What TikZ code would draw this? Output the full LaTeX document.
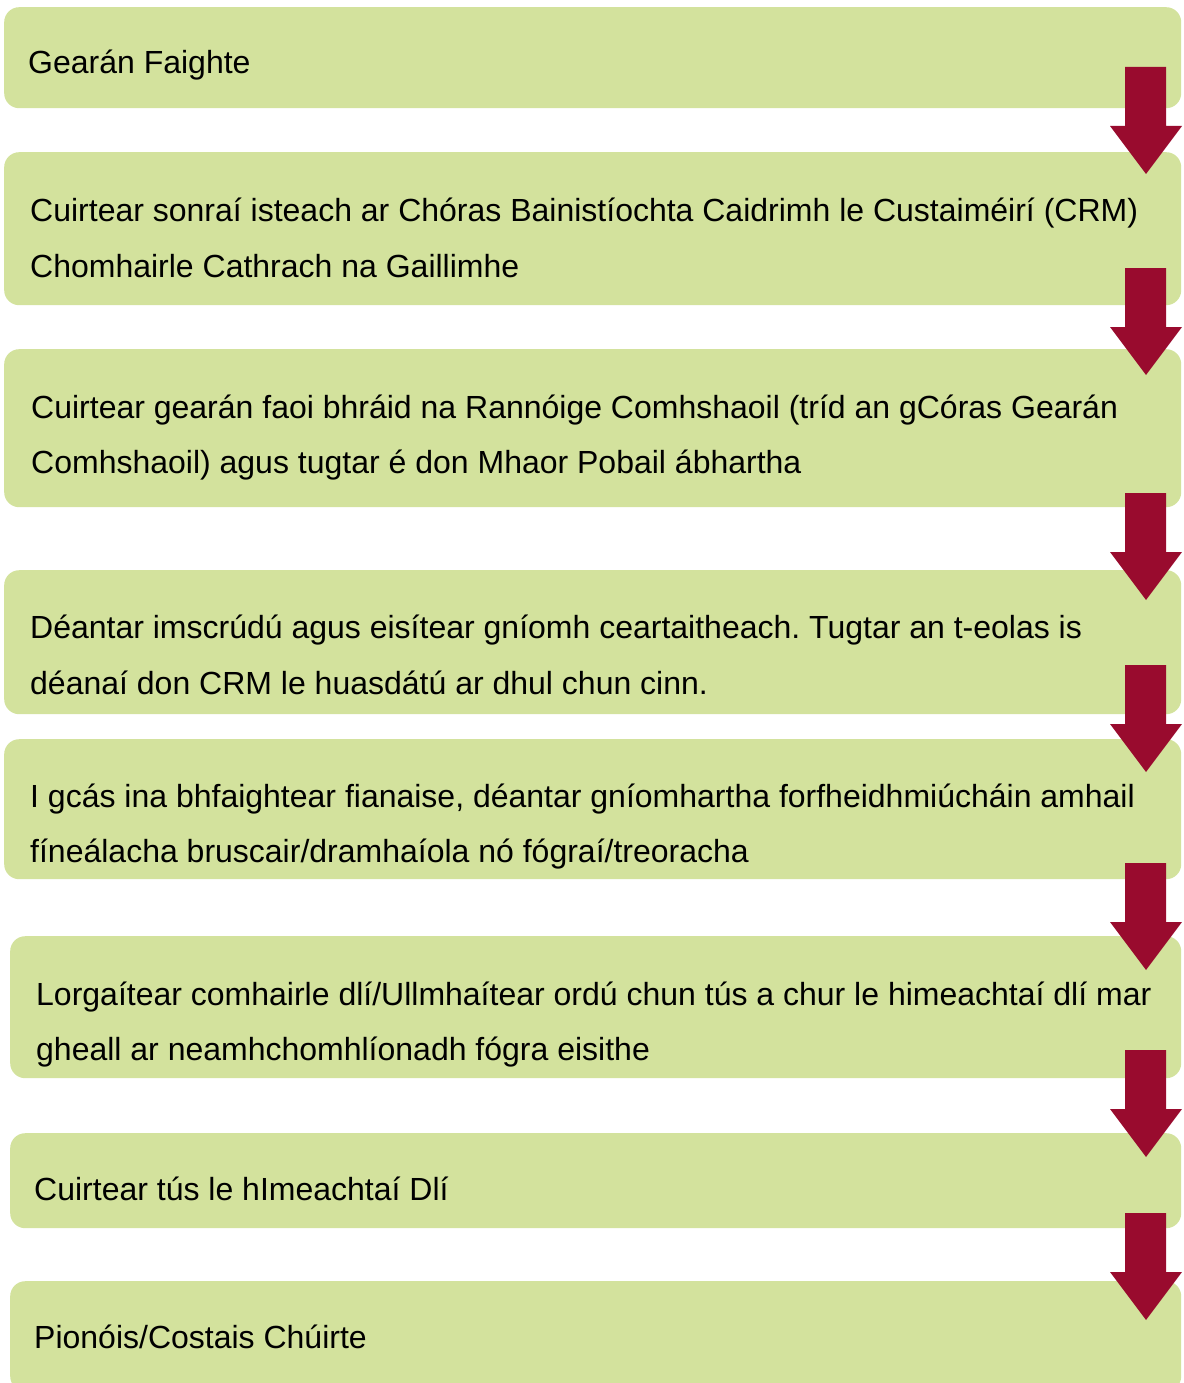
\documentclass[tikz,border=0pt]{standalone}
\usepackage{fontspec}
\setmainfont{Liberation Sans}
\frenchspacing
\definecolor{boxgreen}{HTML}{D3E29D}
\definecolor{arrowred}{HTML}{990B2E}
\tikzset{
  box/.style={fill=boxgreen, rounded corners=15pt, inner sep=0pt, anchor=north west},
  lbl/.style={inner sep=0pt, anchor=base west, font=\fontsize{32}{55}\selectfont},
  redarrow/.style={fill=arrowred}
}
\newcommand\downarr[2]{%
  \coordinate (#2) at (1146,#1);
  \fill[redarrow] (1125,#1) -- (1166,#1) -- (1166,{#1+59}) -- (1182,{#1+59}) -- (1146,{#1+107}) -- (1110,{#1+59}) -- (1125,{#1+59}) -- cycle;
}
\begin{document}
\begin{tikzpicture}[x=1pt,y=-1pt]
\useasboundingbox (0,0) rectangle (1183,1383);
% boxes
\node[box, minimum width=1177pt, minimum height=101pt] (b1) at (4,7) {};
\node[box, minimum width=1177pt, minimum height=153pt] (b2) at (4,152) {};
\node[box, minimum width=1177pt, minimum height=158pt] (b3) at (4,349) {};
\node[box, minimum width=1177pt, minimum height=144pt] (b4) at (4,570) {};
\node[box, minimum width=1177pt, minimum height=140pt] (b5) at (4,739) {};
\node[box, minimum width=1171pt, minimum height=142pt] (b6) at (10,936) {};
\node[box, minimum width=1171pt, minimum height=95pt] (b7) at (10,1133) {};
\node[box, minimum width=1171pt, minimum height=110pt] (b8) at (10,1281) {};
% texts
\node[lbl] (t1) at (28,74) {Gearán Faighte};
\node[lbl] (t2a) at (30,222) {Cuirtear sonraí isteach ar Chóras Bainistíochta Caidrimh le Custaiméirí (CRM)};
\node[lbl] (t2b) at (30,277) {Chomhairle Cathrach na Gaillimhe};
\node[lbl] (t3a) at (31,418) {Cuirtear gearán faoi bhráid na Rannóige Comhshaoil (tríd an gCóras Gearán};
\node[lbl] (t3b) at (31,473) {Comhshaoil) agus tugtar é don Mhaor Pobail ábhartha};
\node[lbl] (t4a) at (30,638) {Déantar imscrúdú agus eisítear gníomh ceartaitheach. Tugtar an t-eolas is};
\node[lbl] (t4b) at (30,694) {déanaí don CRM le huasdátú ar dhul chun cinn.};
\node[lbl] (t5a) at (30,807) {I gcás ina bhfaightear fianaise, déantar gníomhartha forfheidhmiúcháin amhail};
\node[lbl] (t5b) at (30,862) {fíneálacha bruscair/dramhaíola nó fógraí/treoracha};
\node[lbl] (t6a) at (36,1005) {Lorgaítear comhairle dlí/Ullmhaítear ordú chun tús a chur le himeachtaí dlí mar};
\node[lbl] (t6b) at (36,1060) {gheall ar neamhchomhlíonadh fógra eisithe};
\node[lbl] (t7) at (34,1200) {Cuirtear tús le hImeachtaí Dlí};
\node[lbl] (t8) at (34,1348) {Pionóis/Costais Chúirte};
% arrows
\downarr{67}{a1}
\downarr{268}{a2}
\downarr{493}{a3}
\downarr{665}{a4}
\downarr{863}{a5}
\downarr{1050}{a6}
\downarr{1213}{a7}
\end{tikzpicture}
\end{document}
